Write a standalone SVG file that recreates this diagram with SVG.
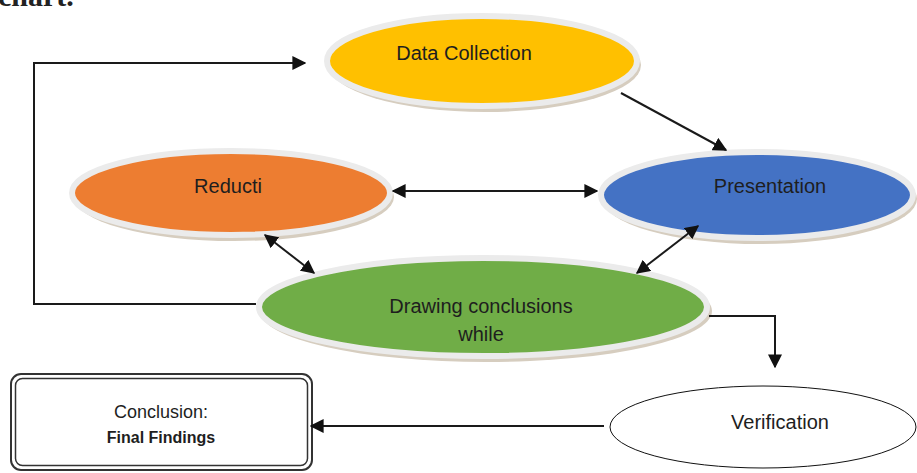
<svg xmlns="http://www.w3.org/2000/svg" width="917" height="473" viewBox="0 0 917 473">
<defs>
<style>
.lbl{font-family:"Liberation Sans",Arial,sans-serif;font-size:20px;fill:#1e1e1e;text-anchor:middle}
.sm{font-family:"Liberation Sans",Arial,sans-serif;fill:#1e1e1e;text-anchor:middle}
.shadow{fill:#d6cdbf}
.rim{stroke:#ebebeb;stroke-width:6}
.edge{fill:none;stroke:#1a1a1a;stroke-width:2}
</style>
<marker id="ah" viewBox="0 0 10 10" refX="9" refY="5" markerWidth="7" markerHeight="7" orient="auto-start-reverse" markerUnits="strokeWidth">
<path d="M0,0 L10,5 L0,10 z" fill="#111"/>
</marker>
</defs>
<rect width="917" height="473" fill="#fff"/>
<text x="-2" y="6" font-family="'Liberation Serif',serif" font-weight="bold" font-size="30" fill="#222">chart.</text>

<g id="data-collection">
<ellipse class="shadow" cx="485" cy="65" rx="156" ry="47"/>
<ellipse class="rim" cx="482" cy="61" rx="155" ry="45" fill="#FFC000"/>
<text class="lbl" x="464" y="60">Data Collection</text>
</g>

<g id="reducti">
<ellipse class="shadow" cx="234" cy="197" rx="160" ry="44"/>
<ellipse class="rim" cx="231" cy="193" rx="159" ry="42" fill="#ED7D31"/>
<text class="lbl" x="228" y="193">Reducti</text>
</g>

<g id="presentation">
<ellipse class="shadow" cx="760" cy="199" rx="157" ry="45"/>
<ellipse class="rim" cx="757" cy="195" rx="156" ry="43" fill="#4472C4"/>
<text class="lbl" x="770" y="193">Presentation</text>
</g>

<g id="drawing-conclusions">
<ellipse class="shadow" cx="486" cy="311" rx="226" ry="51"/>
<ellipse class="rim" cx="483" cy="307" rx="224" ry="49" fill="#70AD47"/>
<text class="lbl" x="481" y="313">Drawing conclusions</text>
<text class="lbl" x="481" y="341">while</text>
</g>

<g id="verification">
<ellipse cx="763" cy="427" rx="153" ry="41" fill="#fff" stroke="#111" stroke-width="1"/>
<text class="lbl" x="780" y="429">Verification</text>
</g>

<g id="conclusion">
<rect x="11" y="374" width="301" height="96" rx="10" fill="#fff" stroke="#333" stroke-width="2"/>
<rect x="15.5" y="378.5" width="292" height="87" rx="7" fill="none" stroke="#333" stroke-width="1.5"/>
<text class="sm" x="161" y="418" font-size="18">Conclusion:</text>
<text class="sm" x="161" y="443" font-size="16" font-weight="bold">Final Findings</text>
</g>

<g id="connectors">
<polyline class="edge" points="256,304 34,304 34,63 305,63" marker-end="url(#ah)"/>
<line class="edge" x1="621" y1="93" x2="726" y2="150" marker-end="url(#ah)"/>
<line class="edge" x1="393" y1="191" x2="597" y2="191" marker-start="url(#ah)" marker-end="url(#ah)"/>
<line class="edge" x1="265" y1="235" x2="314" y2="273" marker-start="url(#ah)" marker-end="url(#ah)"/>
<line class="edge" x1="698" y1="226" x2="637" y2="273" marker-start="url(#ah)" marker-end="url(#ah)"/>
<polyline class="edge" points="709,316 775,316 775,367" marker-end="url(#ah)"/>
<line class="edge" x1="604" y1="426" x2="311" y2="426" marker-end="url(#ah)"/>
</g>
</svg>
